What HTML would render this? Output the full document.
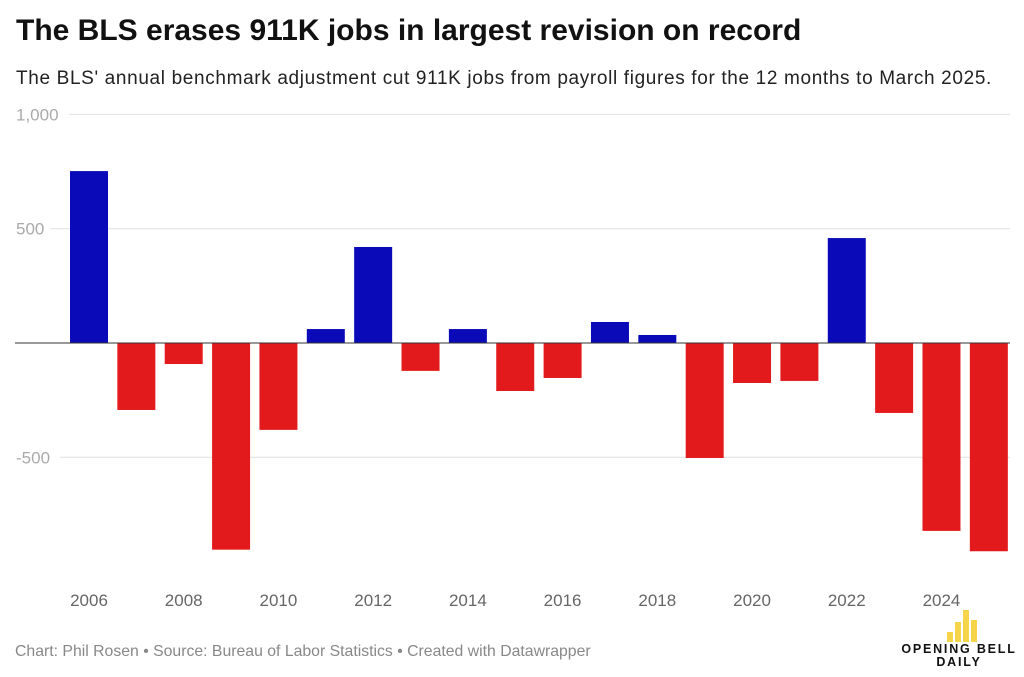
<!DOCTYPE html>
<html><head><meta charset="utf-8"><style>
body{margin:0;width:1024px;height:677px;background:#fff;font-family:"Liberation Sans",sans-serif;overflow:hidden;position:relative}
h1{position:absolute;left:16px;top:14px;margin:0;font-size:30px;font-weight:bold;color:#111}
.sub{position:absolute;left:16px;top:68px;font-size:19px;letter-spacing:0.65px;color:#222;white-space:nowrap}
.foot{position:absolute;left:15px;top:643px;font-size:15.8px;color:#888;white-space:nowrap}
.logo{position:absolute;left:900px;top:643px;width:118px;text-align:center;font-weight:bold;font-size:12.5px;letter-spacing:1.8px;line-height:13px;color:#111}
</style></head><body>
<h1>The BLS erases 911K jobs in largest revision on record</h1>
<div class="sub">The BLS' annual benchmark adjustment cut 911K jobs from payroll figures for the 12 months to March 2025.</div>
<svg id="chart" width="1024" height="677" style="position:absolute;left:0;top:0"></svg>
<div class="foot">Chart: Phil Rosen • Source: Bureau of Labor Statistics • Created with Datawrapper</div>
<svg style="position:absolute;left:945px;top:608px" width="36" height="34">
<rect x="2" y="24" width="6" height="10" fill="#f7d54a"/><rect x="10" y="14" width="6" height="20" fill="#f7d54a"/><rect x="18" y="2" width="6" height="32" fill="#f7d54a"/><rect x="26" y="12" width="6" height="22" fill="#f7d54a"/></svg>
<div class="logo">OPENING BELL<br>DAILY</div>
<script>
const years=[2006,2007,2008,2009,2010,2011,2012,2013,2014,2015,2016,2017,2018,2019,2020,2021,2022,2023,2024,2025];
const values=[752,-293,-92,-904,-380,61,420,-122,61,-210,-153,92,35,-503,-175,-166,459,-306,-822,-911];
const yTicks=[1000,500,0,-500];
const yTickLabels=["1,000","500","","-500"];
const xLabelYears=[2006,2008,2010,2012,2014,2016,2018,2020,2022,2024];
const svg=document.getElementById('chart');
const NS='http://www.w3.org/2000/svg';
const y=v=>343-v*0.2286;
const x=yr=>89+(yr-2006)*47.36;
function mk(t,a){const e=document.createElementNS(NS,t);for(const k in a)e.setAttribute(k,a[k]);svg.appendChild(e);return e;}
yTicks.forEach((v,i)=>{
  const lbl=yTickLabels[i];
  const x0=lbl?16+lbl.length*9.4+6:15;
  const g=mk('line',{x1:x0,x2:1010,y1:y(v),y2:y(v),stroke:v===0?'#333':'#e0e0e0','stroke-width':1});
  
  
  if(lbl){const t=mk('text',{x:16,y:y(v)+6,'font-size':17,fill:'#aaa','font-family':'Liberation Sans'});t.textContent=lbl;
  
  }
});
years.forEach((yr,i)=>{
  const v=values[i];
  const r=mk('rect',{x:x(yr)-19,width:38,y:Math.min(y(v),y(0)),height:Math.abs(y(v)-y(0)),fill:v>=0?'#0a0ab8':'#e31a1c'});
  
  
});
mk('line',{x1:15,x2:1010,y1:y(0),y2:y(0),stroke:'#333','stroke-width':1});
xLabelYears.forEach(yr=>{
  const t=mk('text',{x:x(yr),y:606,'text-anchor':'middle','font-size':17,fill:'#666','font-family':'Liberation Sans'});
  t.textContent=yr;
  
  
});
</script>
</body></html>
